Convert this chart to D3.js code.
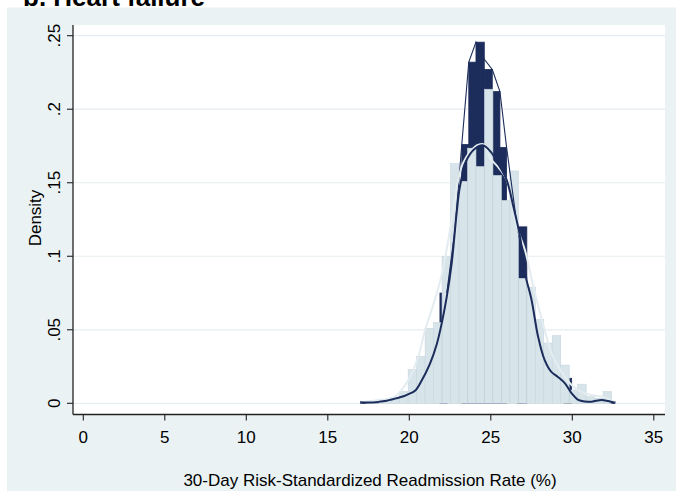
<!DOCTYPE html>
<html>
<head>
<meta charset="utf-8">
<script src="https://cdn.jsdelivr.net/npm/d3@7"></script>
<style>
  html, body { margin: 0; padding: 0; background: #ffffff; }
  svg { display: block; }
  text { font-family: "Liberation Sans", Arial, Helvetica, sans-serif; fill: #000; }
</style>
</head>
<body>
<svg id="chart" width="676" height="491"></svg>
<script>
// ---------------- data ----------------
const titleText = "b. Heart failure";
const xLabel = "30-Day Risk-Standardized Readmission Rate (%)";
const yLabel = "Density";
const xTicks = [0, 5, 10, 15, 20, 25, 30, 35];
const yTicks = [0, 0.05, 0.10, 0.15, 0.20, 0.25];
const yTickLabels = ["0", ".05", ".1", ".15", ".2", ".25"];

// light histogram: first bin start, bin width, and density of each bin
const lightBinStart = 17.33;
const lightBinWidth = 0.52;
const lightHeights = [0.001, 0.001, 0.002, 0.004, 0.008, 0.023, 0.032, 0.051, 0.055, 0.0997,
                      0.163, 0.151, 0.1735, 0.161, 0.2136, 0.155, 0.138, 0.158, 0.085, 0.079,
                      0.057, 0.041, 0.046, 0.026, 0.009, 0.013, 0.0045, 0.0034, 0.0079];

// navy histogram bars (visible parts)
const navyX0 = [17.00, 21.88, 23.22, 23.65, 24.09, 24.60, 25.09, 25.56, 26.62, 29.50, 32.35];
const navyX1 = [18.10, 22.32, 23.65, 24.09, 24.60, 25.09, 25.56, 25.97, 27.21, 29.96, 32.62];
const navyH  = [0.0013, 0.075, 0.176, 0.232, 0.2456, 0.227, 0.212, 0.174, 0.120, 0.017, 0.0013];

// thin navy outline joining the navy bar corners
const navyOutlineX = [22.30, 22.80, 23.22, 23.65, 24.09, 24.60, 25.09, 25.56, 25.97, 26.62, 27.21];
const navyOutlineY = [0.075, 0.118, 0.176, 0.232, 0.2456, 0.234, 0.227, 0.212, 0.174, 0.120, 0.085];

// kernel density (navy)
const navyKdeX = [17.0, 18.0, 18.5, 19.2, 19.7, 19.94, 20.35, 20.76, 21.27, 21.68, 21.99, 22.3, 22.6, 22.9,
                  23.1, 23.5, 24.0, 24.5, 25.0, 25.5, 25.97, 26.38, 26.8, 27.1, 27.5, 27.9, 28.3, 28.7,
                  29.1, 29.55, 29.96, 30.37, 30.8, 31.2, 31.8, 32.2, 32.6];
const navyKdeY = [0.0005, 0.0008, 0.0015, 0.0034, 0.005, 0.0062, 0.0085, 0.0155, 0.027, 0.040, 0.0544, 0.0725, 0.0952, 0.129,
                  0.147, 0.165, 0.173, 0.1755, 0.171, 0.162, 0.152, 0.134, 0.113, 0.0884, 0.0703, 0.0454, 0.0295, 0.0215,
                  0.0181, 0.0136, 0.0068, 0.0023, 0.0012, 0.0011, 0.0023, 0.0015, 0.0004];

// kernel density (light)
const lightKdeX = [17.0, 18.0, 19.1, 19.9, 20.5, 21.0, 21.5, 22.0, 22.5, 23.0, 23.3, 23.8, 24.2, 24.6,
                   24.95, 25.5, 25.97, 26.6, 27.1, 27.6, 28.3, 28.8, 29.55, 30.0, 30.5, 31.0, 31.5, 32.0, 32.6];
const lightKdeY = [0.0005, 0.002, 0.0045, 0.015, 0.03, 0.051, 0.068, 0.088, 0.118, 0.152, 0.1635, 0.172, 0.1757, 0.176,
                   0.167, 0.160, 0.152, 0.12, 0.104, 0.080, 0.050, 0.032, 0.018, 0.012, 0.008, 0.006, 0.005, 0.004, 0.001];

// ---------------- drawing ----------------
const svg = d3.select("#chart");
const W = 676, H = 491;
const plot = { left: 73, right: 665, top: 25, bottom: 414.5 };

const navy = "#1c2c5b";
const lightFill = "#d7e4ea";
const outerBg = "#eaf2f3";

svg.append("rect").attr("x", 0).attr("y", 0).attr("width", W).attr("height", H).attr("fill", "#ffffff");
svg.append("rect").attr("x", 7).attr("y", 7.5).attr("width", W - 7).attr("height", H - 7.5).attr("fill", outerBg);
svg.append("rect").attr("x", plot.left).attr("y", plot.top)
   .attr("width", plot.right - plot.left).attr("height", plot.bottom - plot.top).attr("fill", "#ffffff");

const x = d3.scaleLinear().domain([0, 35]).range([83.3, 653.8]);
const y = d3.scaleLinear().domain([0, 0.25]).range([403.3, 35.7]);

// grid lines
svg.append("g").selectAll("line").data(yTicks).join("line")
  .attr("x1", plot.left).attr("x2", plot.right)
  .attr("y1", d => y(d)).attr("y2", d => y(d))
  .attr("stroke", "#e6eef1").attr("stroke-width", 1.2);

// navy bars
const navyData = navyX0.map((d, i) => ({ x0: d, x1: navyX1[i], h: navyH[i] }));
svg.append("g").selectAll("rect").data(navyData).join("rect")
  .attr("x", d => x(d.x0)).attr("width", d => x(d.x1) - x(d.x0))
  .attr("y", d => y(d.h)).attr("height", d => y(0) - y(d.h))
  .attr("fill", navy).attr("stroke", navy).attr("stroke-width", 0.8);

// light bars
const lightData = lightHeights.map((h, i) => ({ x0: lightBinStart + i * lightBinWidth, x1: lightBinStart + (i + 1) * lightBinWidth, h }));
svg.append("g").selectAll("rect").data(lightData).join("rect")
  .attr("x", d => x(d.x0)).attr("width", d => x(d.x1) - x(d.x0))
  .attr("y", d => y(d.h)).attr("height", d => y(0) - y(d.h))
  .attr("fill", lightFill).attr("stroke", "#c8d6de").attr("stroke-width", 0.6);

// thin navy outline
const straight = d3.line().x(d => x(d[0])).y(d => y(d[1]));
svg.append("path").datum(navyOutlineX.map((d, i) => [d, navyOutlineY[i]]))
  .attr("d", straight).attr("fill", "none").attr("stroke", navy).attr("stroke-width", 1.1);

// kernel lines
const line = d3.line().x(d => x(d[0])).y(d => y(d[1])).curve(d3.curveCatmullRom.alpha(0.5));
svg.append("path").datum(lightKdeX.map((d, i) => [d, lightKdeY[i]]))
  .attr("d", line).attr("fill", "none").attr("stroke", "#e3ecf0").attr("stroke-width", 2);
svg.append("path").datum(navyKdeX.map((d, i) => [d, navyKdeY[i]]))
  .attr("d", line).attr("fill", "none").attr("stroke", navy).attr("stroke-width", 2);

// axes
const axisColor = "#222";
svg.append("line").attr("x1", plot.left).attr("x2", plot.left).attr("y1", plot.top).attr("y2", plot.bottom)
  .attr("stroke", axisColor).attr("stroke-width", 1.3);
svg.append("line").attr("x1", plot.left).attr("x2", plot.right).attr("y1", plot.bottom).attr("y2", plot.bottom)
  .attr("stroke", axisColor).attr("stroke-width", 1.3);

// y ticks
const yg = svg.append("g");
yg.selectAll("line").data(yTicks).join("line")
  .attr("x1", plot.left - 6).attr("x2", plot.left).attr("y1", d => y(d)).attr("y2", d => y(d))
  .attr("stroke", axisColor).attr("stroke-width", 1.1);
yg.selectAll("text").data(yTicks).join("text")
  .attr("transform", d => `translate(60,${y(d)}) rotate(-90)`)
  .attr("text-anchor", "middle").attr("font-size", 17)
  .text((d, i) => yTickLabels[i]);

// x ticks
const xg = svg.append("g");
xg.selectAll("line").data(xTicks).join("line")
  .attr("x1", d => x(d)).attr("x2", d => x(d)).attr("y1", plot.bottom).attr("y2", plot.bottom + 6)
  .attr("stroke", axisColor).attr("stroke-width", 1.1);
xg.selectAll("text").data(xTicks).join("text")
  .attr("x", d => x(d)).attr("y", 443)
  .attr("text-anchor", "middle").attr("font-size", 17)
  .text(d => d);

// axis titles
svg.append("text").attr("x", 370).attr("y", 486).attr("text-anchor", "middle")
  .attr("font-size", 17).text(xLabel);
svg.append("text").attr("transform", "translate(41,218) rotate(-90)").attr("text-anchor", "middle")
  .attr("font-size", 17).text(yLabel);

// title (cut off at the top, as in the original)
svg.append("text").attr("x", 23).attr("y", 6).attr("font-size", 26).attr("font-weight", "bold")
  .text(titleText);
</script>
</body>
</html>
